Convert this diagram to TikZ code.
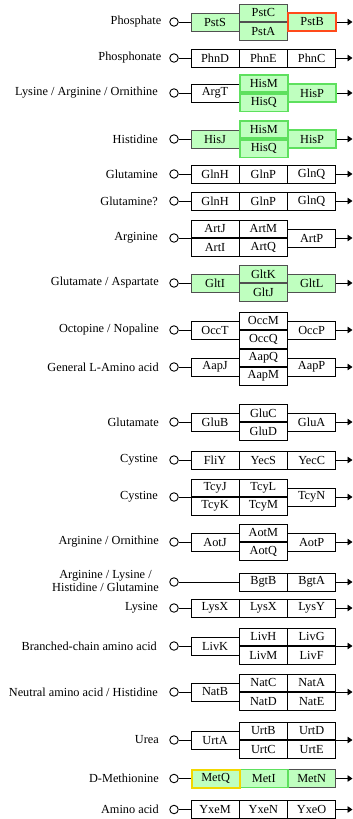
\documentclass[tikz,border=0pt]{standalone}
\usepackage{fontspec}
\setmainfont{Liberation Serif}
\usetikzlibrary{arrows.meta}
\definecolor{kgreen}{HTML}{BFFFBF}
\definecolor{kdark}{HTML}{505050}
\definecolor{kred}{HTML}{FF4A1A}
\definecolor{klime}{HTML}{5EE05E}
\definecolor{kyellow}{HTML}{F2D800}
\newcommand{\kf}{\fontsize{12.3}{10.5}\selectfont}
\begin{document}
\begin{tikzpicture}[x=1pt,y=-1pt,
  box/.style={draw=black, line width=0.8pt, minimum width=48.3pt, minimum height=18pt, inner sep=0pt, font=\kf},
  half/.style={box, minimum height=17.5pt},
  gbox/.style={fill=kgreen, draw=kdark},
  hired/.style={draw=kred, line width=1.7pt},
  hilime/.style={draw=klime, line width=1.7pt},
  hiyel/.style={draw=kyellow, line width=2pt},
  lab/.style={anchor=east, inner sep=0pt, font=\kf, align=center},
  port/.style={circle, draw=black, line width=0.9pt, minimum size=8.5pt, inner sep=0pt},
  wire/.style={line width=0.9pt},
  outarrow/.style={line width=0.9pt, -{Triangle[length=5pt,width=6.5pt]}},
]
\useasboundingbox (0,0) rectangle (353,819);
\fill[white] (0,0) rectangle (353,819);
\def\ca{190.5}\def\cb{238.8}\def\cc{287.1}\def\xe{352.5}

% 1 Phosphate
\node[lab] (l1) at (161.5,22) {Phosphate};
\node[port] (p1) at (174,22) {};
\node[box,gbox,anchor=west] (pstS) at (\ca,22) {PstS};
\node[half,gbox,anchor=south west] (pstC) at (\cb,22) {PstC};
\node[half,gbox,anchor=north west] (pstA) at (\cb,22) {PstA};
\node[box,gbox,hired,anchor=west] (pstB) at (\cc,22) {PstB};
\coordinate (e1) at (\xe,22);
\draw[wire] (p1) -- (pstS);
\draw[outarrow] (pstB) -- (e1);

% 2 Phosphonate
\node[lab] (l2) at (161.5,58) {Phosphonate};
\node[port] (p2) at (174,58) {};
\node[box,anchor=west] (phnD) at (\ca,58) {PhnD};
\node[box,anchor=west] (phnE) at (\cb,58) {PhnE};
\node[box,anchor=west] (phnC) at (\cc,58) {PhnC};
\coordinate (e2) at (\xe,58);
\draw[wire] (p2) -- (phnD);
\draw[outarrow] (phnC) -- (e2);

% 3 Lysine / Arginine / Ornithine
\node[lab] (l3) at (158,93) {Lysine / Arginine / Ornithine};
\node[port] (p3) at (174,93) {};
\node[box,anchor=west] (argT) at (\ca,93) {ArgT};
\node[half,gbox,hilime,anchor=south west] (hisM1) at (\cb,93) {HisM};
\node[half,gbox,hilime,anchor=north west] (hisQ1) at (\cb,93) {HisQ};
\node[box,gbox,hilime,anchor=west] (hisP1) at (\cc,93) {HisP};
\coordinate (e3) at (\xe,93);
\draw[wire] (p3) -- (argT);
\draw[outarrow] (hisP1) -- (e3);

% 4 Histidine
\node[lab] (l4) at (158,139) {Histidine};
\node[port] (p4) at (174,139) {};
\node[box,gbox,anchor=west] (hisJ) at (\ca,139) {HisJ};
\node[half,gbox,hilime,anchor=south west] (hisM2) at (\cb,139) {HisM};
\node[half,gbox,hilime,anchor=north west] (hisQ2) at (\cb,139) {HisQ};
\node[box,gbox,hilime,anchor=west] (hisP2) at (\cc,139) {HisP};
\coordinate (e4) at (\xe,139);
\draw[wire] (p4) -- (hisJ);
\draw[outarrow] (hisP2) -- (e4);

% 5 Glutamine
\node[lab] (l5) at (158,174) {Glutamine};
\node[port] (p5) at (174,174) {};
\node[box,anchor=west] (glnH1) at (\ca,174) {GlnH};
\node[box,anchor=west] (glnP1) at (\cb,174) {GlnP};
\node[box,anchor=west] (glnQ1) at (\cc,174) {GlnQ};
\coordinate (e5) at (\xe,174);
\draw[wire] (p5) -- (glnH1);
\draw[outarrow] (glnQ1) -- (e5);

% 6 Glutamine?
\node[lab] (l6) at (158,201) {Glutamine?};
\node[port] (p6) at (174,201) {};
\node[box,anchor=west] (glnH2) at (\ca,201) {GlnH};
\node[box,anchor=west] (glnP2) at (\cb,201) {GlnP};
\node[box,anchor=west] (glnQ2) at (\cc,201) {GlnQ};
\coordinate (e6) at (\xe,201);
\draw[wire] (p6) -- (glnH2);
\draw[outarrow] (glnQ2) -- (e6);

% 7 Arginine
\node[lab] (l7) at (158,238) {Arginine};
\node[port] (p7) at (174,238) {};
\node[half,anchor=south west] (artJ) at (\ca,238) {ArtJ};
\node[half,anchor=north west] (artI) at (\ca,238) {ArtI};
\node[half,anchor=south west] (artM) at (\cb,238) {ArtM};
\node[half,anchor=north west] (artQ) at (\cb,238) {ArtQ};
\node[box,anchor=west] (artP) at (\cc,238) {ArtP};
\coordinate (e7) at (\xe,238);
\draw[wire] (p7) -- (artJ.south west);
\draw[outarrow] (artP) -- (e7);

% 8 Glutamate / Aspartate
\node[lab] (l8) at (159,283) {Glutamate / Aspartate};
\node[port] (p8) at (174,283) {};
\node[box,gbox,anchor=west] (gltI) at (\ca,283) {GltI};
\node[half,gbox,anchor=south west] (gltK) at (\cb,283) {GltK};
\node[half,gbox,anchor=north west] (gltJ) at (\cb,283) {GltJ};
\node[box,gbox,anchor=west] (gltL) at (\cc,283) {GltL};
\coordinate (e8) at (\xe,283);
\draw[wire] (p8) -- (gltI);
\draw[outarrow] (gltL) -- (e8);

% 9 Octopine / Nopaline
\node[lab] (l9) at (159,330) {Octopine / Nopaline};
\node[port] (p9) at (174,330) {};
\node[box,anchor=west] (occT) at (\ca,330) {OccT};
\node[half,anchor=south west] (occM) at (\cb,330) {OccM};
\node[half,anchor=north west] (occQ) at (\cb,330) {OccQ};
\node[box,anchor=west] (occP) at (\cc,330) {OccP};
\coordinate (e9) at (\xe,330);
\draw[wire] (p9) -- (occT);
\draw[outarrow] (occP) -- (e9);

% 10 General L-Amino acid
\node[lab] (l10) at (159,367) {General L-Amino acid};
\node[port] (p10) at (174,367) {};
\node[box,anchor=west] (aapJ) at (\ca,367) {AapJ};
\node[half,anchor=south west] (aapQ) at (\cb,367) {AapQ};
\node[half,anchor=north west] (aapM) at (\cb,367) {AapM};
\node[box,anchor=west] (aapP) at (\cc,367) {AapP};
\coordinate (e10) at (\xe,367);
\draw[wire] (p10) -- (aapJ);
\draw[outarrow] (aapP) -- (e10);

% 11 Glutamate
\node[lab] (l11) at (159,422) {Glutamate};
\node[port] (p11) at (174,422) {};
\node[box,anchor=west] (gluB) at (\ca,422) {GluB};
\node[half,anchor=south west] (gluC) at (\cb,422) {GluC};
\node[half,anchor=north west] (gluD) at (\cb,422) {GluD};
\node[box,anchor=west] (gluA) at (\cc,422) {GluA};
\coordinate (e11) at (\xe,422);
\draw[wire] (p11) -- (gluB);
\draw[outarrow] (gluA) -- (e11);

% 12 Cystine
\node[lab] (l12) at (158,460) {Cystine};
\node[port] (p12) at (174,460) {};
\node[box,anchor=west] (fliY) at (\ca,460) {FliY};
\node[box,anchor=west] (yecS) at (\cb,460) {YecS};
\node[box,anchor=west] (yecC) at (\cc,460) {YecC};
\coordinate (e12) at (\xe,460);
\draw[wire] (p12) -- (fliY);
\draw[outarrow] (yecC) -- (e12);

% 13 Cystine
\node[lab] (l13) at (158,497) {Cystine};
\node[port] (p13) at (174,497) {};
\node[half,anchor=south west] (tcyJ) at (\ca,497) {TcyJ};
\node[half,anchor=north west] (tcyK) at (\ca,497) {TcyK};
\node[half,anchor=south west] (tcyL) at (\cb,497) {TcyL};
\node[half,anchor=north west] (tcyM) at (\cb,497) {TcyM};
\node[box,anchor=west] (tcyN) at (\cc,497) {TcyN};
\coordinate (e13) at (\xe,497);
\draw[wire] (p13) -- (tcyJ.south west);
\draw[outarrow] (tcyN) -- (e13);

% 14 Arginine / Ornithine
\node[lab] (l14) at (159,542) {Arginine / Ornithine};
\node[port] (p14) at (174,542) {};
\node[box,anchor=west] (aotJ) at (\ca,542) {AotJ};
\node[half,anchor=south west] (aotM) at (\cb,542) {AotM};
\node[half,anchor=north west] (aotQ) at (\cb,542) {AotQ};
\node[box,anchor=west] (aotP) at (\cc,542) {AotP};
\coordinate (e14) at (\xe,542);
\draw[wire] (p14) -- (aotJ);
\draw[outarrow] (aotP) -- (e14);

% 15 Arginine / Lysine / Histidine / Glutamine
\node[lab] (l15) at (159,581) {Arginine / Lysine /\\Histidine / Glutamine};
\node[port] (p15) at (174,582) {};
\node[box,anchor=west] (bgtB) at (\cb,582) {BgtB};
\node[box,anchor=west] (bgtA) at (\cc,582) {BgtA};
\coordinate (e15) at (\xe,582);
\draw[wire] (p15) -- (bgtB);
\draw[outarrow] (bgtA) -- (e15);

% 16 Lysine
\node[lab] (l16) at (158,608) {Lysine};
\node[port] (p16) at (174,608) {};
\node[box,anchor=west] (lysX1) at (\ca,608) {LysX};
\node[box,anchor=west] (lysX2) at (\cb,608) {LysX};
\node[box,anchor=west] (lysY) at (\cc,608) {LysY};
\coordinate (e16) at (\xe,608);
\draw[wire] (p16) -- (lysX1);
\draw[outarrow] (lysY) -- (e16);

% 17 Branched-chain amino acid
\node[lab] (l17) at (157,646) {Branched-chain amino acid};
\node[port] (p17) at (174,646) {};
\node[box,anchor=west] (livK) at (\ca,646) {LivK};
\node[half,anchor=south west] (livH) at (\cb,646) {LivH};
\node[half,anchor=north west] (livM) at (\cb,646) {LivM};
\node[half,anchor=south west] (livG) at (\cc,646) {LivG};
\node[half,anchor=north west] (livF) at (\cc,646) {LivF};
\coordinate (e17) at (\xe,646);
\draw[wire] (p17) -- (livK);
\draw[outarrow] (livG.south east) -- (e17);

% 18 Neutral amino acid / Histidine
\node[lab] (l18) at (158,692) {Neutral amino acid / Histidine};
\node[port] (p18) at (174,692) {};
\node[box,anchor=west] (natB) at (\ca,692) {NatB};
\node[half,anchor=south west] (natC) at (\cb,692) {NatC};
\node[half,anchor=north west] (natD) at (\cb,692) {NatD};
\node[half,anchor=south west] (natA) at (\cc,692) {NatA};
\node[half,anchor=north west] (natE) at (\cc,692) {NatE};
\coordinate (e18) at (\xe,692);
\draw[wire] (p18) -- (natB);
\draw[outarrow] (natA.south east) -- (e18);

% 19 Urea
\node[lab] (l19) at (159,740) {Urea};
\node[port] (p19) at (174,740) {};
\node[box,anchor=west] (urtA) at (\ca,740) {UrtA};
\node[half,anchor=south west] (urtB) at (\cb,740) {UrtB};
\node[half,anchor=north west] (urtC) at (\cb,740) {UrtC};
\node[half,anchor=south west] (urtD) at (\cc,740) {UrtD};
\node[half,anchor=north west] (urtE) at (\cc,740) {UrtE};
\coordinate (e19) at (\xe,740);
\draw[wire] (p19) -- (urtA);
\draw[outarrow] (urtD.south east) -- (e19);

% 20 D-Methionine
\node[lab] (l20) at (159,778.5) {D-Methionine};
\node[port] (p20) at (174,778.5) {};
\node[box,gbox,anchor=west] (metN) at (\cc,778.5) {MetN};
\node[box,gbox,hilime,anchor=west] (metI) at (\cb,778.5) {MetI};
\node[box,gbox,hiyel,anchor=west] (metQ) at (\ca,778.5) {MetQ};
\coordinate (e20) at (\xe,778.5);
\draw[wire] (p20) -- (metQ);
\draw[outarrow] (metN) -- (e20);

% 21 Amino acid
\node[lab] (l21) at (159,809.5) {Amino acid};
\node[port] (p21) at (174,809.5) {};
\node[box,anchor=west] (yxeM) at (\ca,809.5) {YxeM};
\node[box,anchor=west] (yxeN) at (\cb,809.5) {YxeN};
\node[box,anchor=west] (yxeO) at (\cc,809.5) {YxeO};
\coordinate (e21) at (\xe,809.5);
\draw[wire] (p21) -- (yxeM);
\draw[outarrow] (yxeO) -- (e21);
\end{tikzpicture}
\end{document}
